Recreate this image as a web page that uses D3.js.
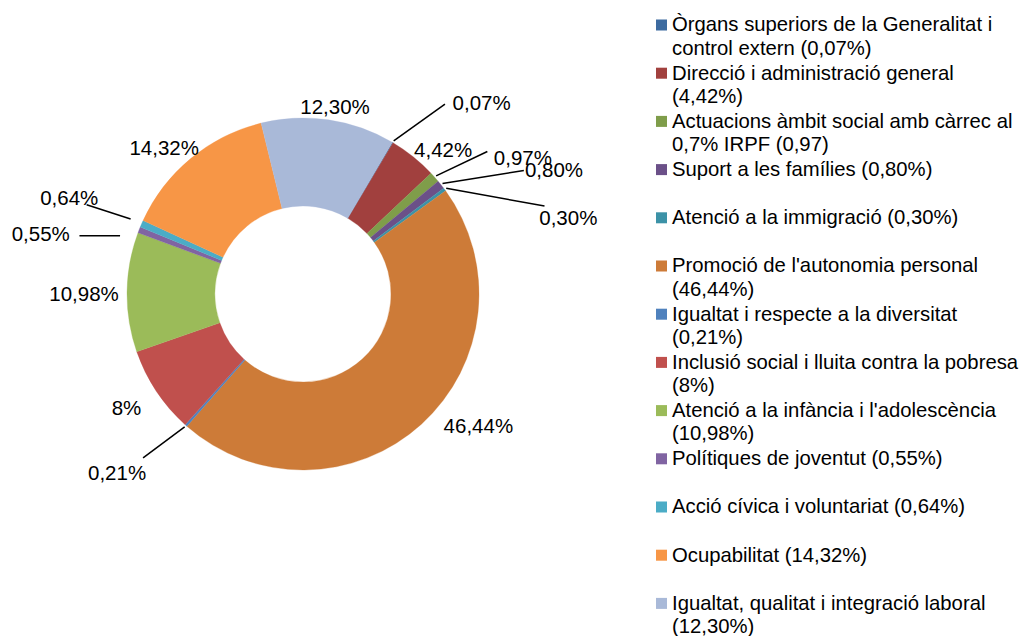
<!DOCTYPE html>
<html>
<head>
<meta charset="utf-8">
<script src="https://cdn.jsdelivr.net/npm/d3@7"></script>
<style>
  body { margin: 0; background: #fff; }
  svg text { font-family: Arial, "Liberation Sans", sans-serif; fill: #000; }
</style>
</head>
<body>
<svg id="chart" width="1024" height="636"></svg>
<script>
// data
var categories = [
  "Òrgans superiors de la Generalitat i control extern",
  "Direcció i administració general",
  "Actuacions àmbit social amb càrrec al 0,7% IRPF",
  "Suport a les famílies",
  "Atenció a la immigració",
  "Promoció de l'autonomia personal",
  "Igualtat i respecte a la diversitat",
  "Inclusió social i lluita contra la pobresa",
  "Atenció a la infància i l'adolescència",
  "Polítiques de joventut",
  "Acció cívica i voluntariat",
  "Ocupabilitat",
  "Igualtat, qualitat i integració laboral"
];
var values = [0.07, 4.42, 0.97, 0.80, 0.30, 46.44, 0.21, 8, 10.98, 0.55, 0.64, 14.32, 12.30];
var legendLabels = [
  "Òrgans superiors de la Generalitat i control extern (0,07%)",
  "Direcció i administració general (4,42%)",
  "Actuacions àmbit social amb càrrec al 0,7% IRPF (0,97)",
  "Suport a les famílies (0,80%)",
  "Atenció a la immigració (0,30%)",
  "Promoció de l'autonomia personal (46,44%)",
  "Igualtat i respecte a la diversitat (0,21%)",
  "Inclusió social i lluita contra la pobresa (8%)",
  "Atenció a la infància i l'adolescència (10,98%)",
  "Polítiques de joventut (0,55%)",
  "Acció cívica i voluntariat (0,64%)",
  "Ocupabilitat (14,32%)",
  "Igualtat, qualitat i integració laboral (12,30%)"
];
var colors = ["#3d6ba0", "#a1403e", "#7f9d4a", "#6b5088", "#3c92a7", "#cd7b38",
              "#4f81bd", "#c0504d", "#9bbb59", "#8064a2", "#4bacc6", "#f79646", "#a9b9d8"];

// label placement (polar: degrees clockwise from top, distance from centre)
var labelAngle  = [43.0, 44.2, 58.1, 63.7, 74.0, 126.8, 226.1, 237.2, 270.0, 282.9, 292.5, 316.6, 9.7];
var labelRadius = [262, 201, 259, 280, 276, 219, 258, 210, 219, 269, 253, 202, 190];
// leader lines: [slice index, gap beyond outer edge, end angle, end radius, start angle shift]
var leaders = [
  [0, 2, 36.8, 237, 0],
  [2, 2, 52.3, 233, 0],
  [3, 2, 60.8, 253, 0],
  [4, 2, 70.0, 257, 0],
  [6, 2, 224.3, 229, 0],
  [9, 16, 284.6, 231, -3.7],
  [10, 12, 292.4, 234, 0]
];

var svg = d3.select("#chart");
var cx = 303, cy = 294, outerR = 176, innerR = 88;
var startDeg = 30.5;
var rad = function (d) { return d * Math.PI / 180; };

function polar(a, r) {
  return [cx + r * Math.sin(rad(a)), cy - r * Math.cos(rad(a))];
}

function fmt(v) {
  var s = (v % 1 === 0) ? String(v) : v.toFixed(2);
  return s.replace(".", ",") + "%";
}

var pie = d3.pie().sort(null)
  .startAngle(rad(startDeg))
  .endAngle(rad(startDeg) + 2 * Math.PI);
var arcs = pie(values);
var arc = d3.arc().innerRadius(innerR).outerRadius(outerR);

var g = svg.append("g").attr("transform", "translate(" + cx + "," + cy + ")");
g.selectAll("path.slice")
  .data(arcs)
  .enter().append("path")
  .attr("class", "slice")
  .attr("d", arc)
  .attr("fill", function (d, i) { return colors[i]; })
  .attr("stroke", function (d, i) { return colors[i]; })
  .attr("stroke-width", 0.3);

// leader lines
leaders.forEach(function (l) {
  var a = arcs[l[0]];
  var mid = (a.startAngle + a.endAngle) / 2 * 180 / Math.PI + l[4];
  var p1 = polar(mid, outerR + l[1]);
  var p2 = polar(l[2], l[3]);
  svg.append("line")
    .attr("x1", p1[0]).attr("y1", p1[1])
    .attr("x2", p2[0]).attr("y2", p2[1])
    .attr("stroke", "#000")
    .attr("stroke-width", 1.5);
});

// data labels
svg.selectAll("text.lbl")
  .data(values)
  .enter().append("text")
  .attr("class", "lbl")
  .attr("x", function (d, i) { return polar(labelAngle[i], labelRadius[i])[0]; })
  .attr("y", function (d, i) { return polar(labelAngle[i], labelRadius[i])[1]; })
  .attr("text-anchor", "middle")
  .attr("dy", "0.36em")
  .attr("font-size", "20.5px")
  .text(function (d) { return fmt(d); });

// legend
var legX = 656, legTextX = 672, legTop = 24, legStep = 48.2, lineH = 23.5, maxW = 348;
var leg = svg.append("g");
legendLabels.forEach(function (label, i) {
  var yc = legTop + i * legStep;
  leg.append("rect")
    .attr("x", legX).attr("y", yc - 4.5)
    .attr("width", 11).attr("height", 11)
    .attr("fill", colors[i]);

  var t = leg.append("text")
    .attr("x", legTextX)
    .attr("y", yc)
    .attr("dy", "0.36em")
    .attr("font-size", "20.3px");
  // simple word wrap
  var words = label.split(" ");
  var line = [];
  var ts = t.append("tspan").attr("x", legTextX);
  words.forEach(function (w) {
    line.push(w);
    ts.text(line.join(" "));
    if (ts.node().getComputedTextLength() > maxW && line.length > 1) {
      line.pop();
      ts.text(line.join(" "));
      line = [w];
      ts = t.append("tspan").attr("x", legTextX).attr("dy", lineH).text(w);
    }
  });
});
</script>
</body>
</html>
